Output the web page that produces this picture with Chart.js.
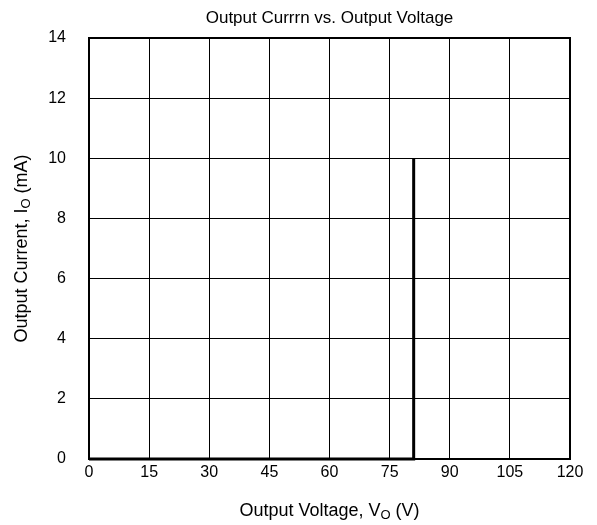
<!DOCTYPE html>
<html>
<head>
<meta charset="utf-8">
<script src="https://cdn.jsdelivr.net/npm/chart.js@4"></script>
<style>
  body { margin: 0; background: #fff; }
  #wrap { width: 597px; height: 525px; }
</style>
</head>
<body>
<div id="wrap"><canvas id="myChart" width="597" height="525"></canvas></div>
<script>
var voltage = [0, 81, 81];
var current = [0, 0, 10];
var xTicks = [0, 15, 30, 45, 60, 75, 90, 105, 120];
var yTicks = [0, 2, 4, 6, 8, 10, 12, 14];

var FONT = '"Liberation Sans", Arial, sans-serif';

// draws title, axis titles (with subscript O) and the plot frame
var labelsPlugin = {
    id: 'labels',
    afterDraw: function (chart) {
        var c = chart.ctx, a = chart.chartArea;
        c.save();
        c.strokeStyle = '#000';
        c.lineWidth = 2;
        c.strokeRect(a.left, a.top, a.right - a.left, a.bottom - a.top);

        c.fillStyle = '#000';
        c.textBaseline = 'alphabetic';
        c.font = '17px ' + FONT;
        c.textAlign = 'center';
        c.fillText('Output Currrn vs. Output Voltage', (a.left + a.right) / 2, 23);

        function subText(parts, cx, cy) {
            var big = '18px ' + FONT, small = '13px ' + FONT;
            var w = 0;
            parts.forEach(function (p) { c.font = p.sub ? small : big; w += c.measureText(p.t).width; });
            var x = cx - w / 2;
            c.textAlign = 'left';
            parts.forEach(function (p) {
                c.font = p.sub ? small : big;
                c.fillText(p.t, x, cy + (p.sub ? 3 : 0));
                x += c.measureText(p.t).width;
            });
        }
        subText([{t: 'Output Voltage, V'}, {t: 'O', sub: true}, {t: ' (V)'}], (a.left + a.right) / 2, 516);

        c.translate(27, (a.top + a.bottom) / 2);
        c.rotate(-Math.PI / 2);
        subText([{t: 'Output Current, I'}, {t: 'O', sub: true}, {t: ' (mA)'}], 0, 0);
        c.restore();
    }
};

var ctx = document.getElementById('myChart').getContext('2d');
var myChart = new Chart(ctx, {
    type: 'scatter',
    data: {
        datasets: [{
            data: voltage.map(function (v, i) { return {x: v, y: current[i]}; }),
            showLine: true,
            borderColor: '#000',
            borderWidth: 3,
            pointRadius: 0,
            clip: false
        }]
    },
    options: {
        responsive: false,
        animation: false,
        layout: { padding: { left: 0, top: 38, right: 27, bottom: 0 } },
        plugins: { legend: { display: false }, tooltip: { enabled: false } },
        scales: {
            x: {
                min: 0, max: 120,
                afterFit: function (s) { s.height = 66; },
                afterBuildTicks: function (s) { s.ticks = xTicks.map(function (v) { return {value: v}; }); },
                grid: { color: '#000', lineWidth: 1, drawTicks: false },
                border: { display: false },
                ticks: { color: '#000', padding: 4, font: { size: 16, family: FONT }, maxRotation: 0 }
            },
            y: {
                min: 0, max: 14,
                afterFit: function (s) { s.width = 89; },
                afterBuildTicks: function (s) { s.ticks = yTicks.map(function (v) { return {value: v}; }); },
                grid: { color: '#000', lineWidth: 1, drawTicks: false },
                border: { display: false },
                ticks: { color: '#000', padding: 23, font: { size: 16, family: FONT } }
            }
        }
    },
    plugins: [labelsPlugin]
});
</script>
</body>
</html>
